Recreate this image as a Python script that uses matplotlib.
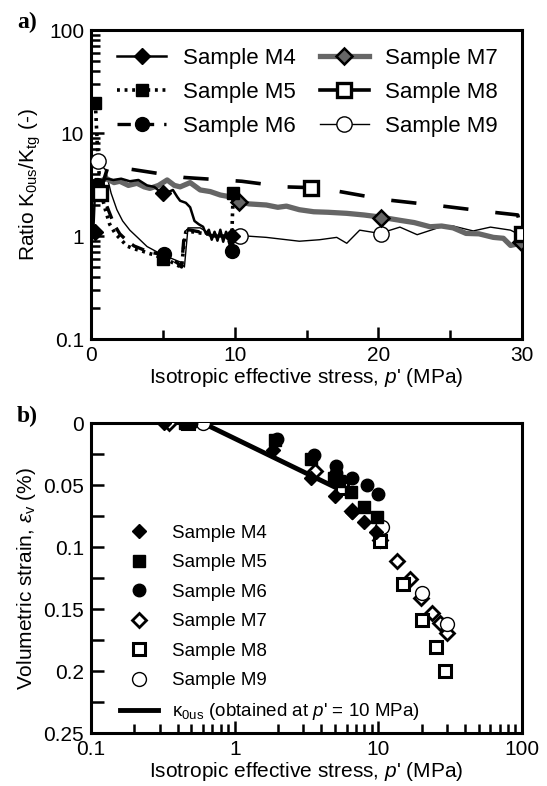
import numpy as np
import matplotlib
matplotlib.use("Agg")
import matplotlib.pyplot as plt
from matplotlib.ticker import FixedLocator, FuncFormatter, LogLocator, NullFormatter

plt.rcParams['font.family'] = ['Liberation Sans', 'DejaVu Sans']
plt.rcParams['mathtext.fontset'] = 'custom'
plt.rcParams['mathtext.rm'] = 'Liberation Sans'
plt.rcParams['mathtext.it'] = 'Liberation Sans:italic'

# ---- panel a: ratio K0us/Ktg vs p' ----
m4_x = [0.16, 0.3, 0.6, 1.1, 1.55, 2.1, 2.7, 3.3, 3.9, 4.4, 4.8, 5.2, 5.7, 6.0, 6.2, 6.6, 6.9, 7.2, 7.5, 7.8,
        8.0, 8.2, 8.4, 8.6, 8.8, 9.0, 9.2, 9.4, 9.6, 9.8]
m4_y = [1.12, 3.3, 3.4, 3.6, 3.5, 3.6, 3.4, 3.5, 3.1, 3.0, 2.7, 2.6, 2.8, 2.4, 2.2, 2.1, 1.9, 1.4, 1.3, 1.23,
        1.05, 1.15, 0.92, 1.1, 0.9, 1.15, 0.88, 1.1, 0.92, 1.0]
m4_mx = [0.3, 0.35, 5.0, 9.8]
m4_my = [1.1, 3.0, 2.6, 1.0]

m5_x = [0.3, 0.4, 0.5, 0.7, 1.0, 1.3, 1.7, 2.0, 2.5, 3.0, 3.5, 4.0, 4.5, 5.0, 5.5, 6.0, 6.3, 6.5, 6.6, 7.0,
        8.0, 9.0, 9.8, 9.85, 9.9]
m5_y = [19.6, 10.0, 5.0, 2.6, 1.8, 1.3, 1.05, 0.95, 0.8, 0.75, 0.72, 0.68, 0.65, 0.6, 0.57, 0.52, 0.5, 0.9,
        1.1, 1.1, 1.05, 1.0, 1.0, 1.7, 2.6]
m5_mx = [0.3, 0.5, 5.0, 9.85]
m5_my = [19.6, 2.7, 0.6, 2.6]

m6_x = [0.4, 0.8, 1.2, 1.6, 2.0, 2.5, 3.0, 3.5, 4.0, 4.5, 5.0, 5.5, 6.0, 6.3, 6.5, 6.8, 7.5, 8.5, 9.5, 9.8]
m6_y = [3.1, 2.5, 1.8, 1.3, 1.05, 0.9, 0.8, 0.75, 0.7, 0.68, 0.67, 0.6, 0.55, 0.5, 1.1, 1.15, 1.1, 1.0, 1.0, 0.72]
m6_mx = [0.4, 5.1, 9.8]
m6_my = [3.1, 0.67, 0.72]

m7_x = [0.16, 0.6, 1.1, 1.6, 2.0, 2.6, 3.2, 3.7, 4.1, 4.7, 5.3, 5.8, 6.2, 6.9, 7.6, 8.3, 9.0, 9.7, 10.3, 11.0,
        12.2, 13.0, 13.6, 14.5, 15.5, 16.5, 17.8, 19.0, 20.1, 21.5, 22.5, 23.6, 24.4, 25.2, 26.1, 27.0, 28.0,
        28.7, 29.2, 29.9]
m7_y = [3.25, 3.4, 3.6, 3.3, 3.4, 3.1, 3.25, 3.0, 2.9, 3.1, 3.5, 3.1, 3.0, 3.3, 2.8, 2.7, 2.5, 2.4, 2.15, 2.05,
        2.0, 1.9, 1.95, 1.8, 1.72, 1.7, 1.66, 1.6, 1.53, 1.42, 1.35, 1.23, 1.25, 1.2, 1.06, 1.05, 0.97,
        0.95, 0.81, 0.85]
m7_mx = [0.3, 10.3, 20.2, 29.9]
m7_my = [3.0, 2.15, 1.5, 0.88]

m8_x = [0.6, 1.2, 3.0, 6.5, 10.5, 13.5, 15.3, 17.0, 20.5, 24.5, 28.0, 29.7, 30.0]
m8_y = [2.6, 4.8, 4.4, 3.7, 3.4, 3.0, 2.95, 2.75, 2.25, 1.95, 1.7, 1.6, 1.05]
m8_mx = [0.6, 15.3, 30.0]
m8_my = [2.6, 2.95, 1.05]

m9_x = [0.5, 1.0, 1.4, 1.8, 2.2, 2.7, 3.3, 3.9, 4.6, 5.3, 6.2, 6.5, 6.75, 7.6, 8.5, 9.5, 10.4, 10.8, 12.2,
        14.5, 15.9, 17.1, 17.8, 18.7, 20.1, 21.5, 22.7, 24.3, 25.2, 26.6, 27.8, 29.2, 30.0]
m9_y = [5.3, 4.4, 2.6, 1.8, 1.4, 1.14, 0.95, 0.79, 0.7, 0.63, 0.56, 0.5, 1.2, 1.2, 1.0, 1.0, 1.0, 1.0, 0.97,
        0.89, 0.92, 0.97, 0.85, 1.14, 1.06, 1.22, 1.03, 1.22, 1.25, 1.12, 1.22, 1.14, 1.0]
m9_mx = [0.5, 10.4, 20.2]
m9_my = [5.3, 1.0, 1.05]

# ---- panel b: volumetric strain vs p' ----
b4_x = [0.32, 1.85, 3.4, 5.0, 6.6, 7.9, 9.6]
b4_y = [0.0, 0.022, 0.044, 0.059, 0.072, 0.08, 0.088]
b5_x = [0.45, 1.9, 3.4, 4.9, 5.3, 6.5, 8.0, 9.8]
b5_y = [0.0, 0.014, 0.029, 0.044, 0.047, 0.056, 0.068, 0.076]
b6_x = [0.5, 1.96, 3.55, 5.1, 5.1, 6.6, 8.3, 10.0]
b6_y = [0.0, 0.013, 0.026, 0.035, 0.040, 0.044, 0.05, 0.057]
b7_x = [0.35, 3.6, 6.6, 10.2, 13.4, 16.6, 19.9, 23.6, 26.8, 30.0]
b7_y = [0.0, 0.039, 0.071, 0.094, 0.111, 0.126, 0.141, 0.153, 0.161, 0.169]
b8_x = [0.47, 5.6, 10.3, 14.8, 20.0, 25.0, 29.3]
b8_y = [0.0, 0.052, 0.095, 0.130, 0.159, 0.181, 0.2]
b9_x = [0.6, 10.6, 20.0, 30.0]
b9_y = [0.0, 0.084, 0.137, 0.162]
kappa_x = [0.6, 5.7]
kappa_y = [0.0, 0.055]

xlab = "Isotropic effective stress, $p$' (MPa)"

fig = plt.figure(figsize=(5.47, 7.86), dpi=100)
ax1 = fig.add_axes([0.1664, 0.5687, 0.788, 0.3931])
ax2 = fig.add_axes([0.1664, 0.0674, 0.788, 0.3944])

gray = '#666666'
ax1.plot(m9_x, m9_y, color='black', lw=1.0, zorder=2)
ax1.plot(m9_mx, m9_my, ls='none', marker='o', ms=11, mfc='white', mec='black', mew=1.0, zorder=6)
ax1.plot(m7_x, m7_y, color=gray, lw=3.8, zorder=3)
ax1.plot(m7_mx, m7_my, ls='none', marker='D', ms=8.5, mfc=gray, mec='black', mew=1.8, zorder=6)
ax1.plot(m4_x, m4_y, color='black', lw=1.8, zorder=4)
ax1.plot(m4_mx, m4_my, ls='none', marker='D', ms=8, color='black', zorder=6)
ax1.plot(m5_x, m5_y, color='black', lw=2.6, ls=(0, (0.8, 1.3)), zorder=4)
ax1.plot(m5_mx, m5_my, ls='none', marker='s', ms=9, color='black', zorder=6)
ax1.plot(m6_x, m6_y, color='black', lw=2.4, ls=(0, (4, 3)), zorder=4)
ax1.plot(m6_mx, m6_my, ls='none', marker='o', ms=10, color='black', zorder=6)
l8, = ax1.plot(m8_x, m8_y, color='black', lw=2.6, zorder=3)
l8.set_dashes((7, 7.5))
ax1.plot(m8_mx, m8_my, ls='none', marker='s', ms=10, mfc='white', mec='black', mew=2.4, zorder=6)

# legend handles for panel a
h = []
h.append(ax1.plot([], [], color='black', lw=1.8, marker='D', ms=8, label='Sample M4')[0])
h.append(ax1.plot([], [], color='black', lw=2.6, ls=(0, (0.8, 1.3)), marker='s', ms=9, label='Sample M5')[0])
h.append(ax1.plot([], [], color='black', lw=2.4, ls=(0, (4, 3)), marker='o', ms=10, label='Sample M6')[0])
h.append(ax1.plot([], [], color=gray, lw=3.8, marker='D', ms=8.5, mfc=gray, mec='black', mew=1.8,
                  label='Sample M7')[0])
h.append(ax1.plot([], [], color='black', lw=2.6, marker='s', ms=10, mfc='white', mec='black', mew=2.4,
                  label='Sample M8')[0])
h.append(ax1.plot([], [], color='black', lw=1.0, marker='o', ms=11, mfc='white', mec='black', mew=1.0,
                  label='Sample M9')[0])
ax1.legend(handles=h, ncol=2, loc='upper left', bbox_to_anchor=(0.04, 0.97), frameon=False,
           fontsize=16, handlelength=2.2, handletextpad=0.75, columnspacing=1.1, labelspacing=0.58,
           borderaxespad=0)

ax1.set_yscale('log')
ax1.set_xlim(0, 30)
ax1.set_ylim(0.1, 100)
ax1.xaxis.set_major_locator(FixedLocator([0, 10, 20, 30]))
ax1.xaxis.set_minor_locator(FixedLocator([5, 15, 25]))
ax1.yaxis.set_major_locator(LogLocator(base=10, numticks=10))
ax1.yaxis.set_minor_locator(LogLocator(base=10, subs=np.arange(2, 10), numticks=10))
ax1.yaxis.set_major_formatter(FuncFormatter(lambda v, p: '%g' % v))
ax1.yaxis.set_minor_formatter(NullFormatter())
ax1.set_xlabel(xlab, fontsize=15, labelpad=1)
ax1.set_ylabel(r"Ratio K$_\mathrm{0us}$/K$_\mathrm{tg}$ (-)", fontsize=15, labelpad=4)

# ---- panel b ----
ax2.plot(kappa_x, kappa_y, color='black', lw=3.5, zorder=2, label=r"κ$_\mathrm{0us}$ (obtained at $p$' = 10 MPa)")
ax2.plot(b4_x, b4_y, ls='none', marker='D', ms=7.5, color='black', zorder=4, label='Sample M4')
ax2.plot(b5_x, b5_y, ls='none', marker='s', ms=8, color='black', zorder=4, label='Sample M5')
ax2.plot(b6_x, b6_y, ls='none', marker='o', ms=9, color='black', zorder=4, label='Sample M6')
ax2.plot(b7_x, b7_y, ls='none', marker='D', ms=7.5, mfc='white', mec='black', mew=2.0, zorder=3, label='Sample M7')
ax2.plot(b8_x, b8_y, ls='none', marker='s', ms=8.5, mfc='white', mec='black', mew=2.2, zorder=3, label='Sample M8')
ax2.plot(b9_x, b9_y, ls='none', marker='o', ms=10, mfc='white', mec='black', mew=1.0, zorder=3, label='Sample M9')
hb, lb = ax2.get_legend_handles_labels()
order = [1, 2, 3, 4, 5, 6, 0]
ax2.legend([hb[i] for i in order], [lb[i] for i in order], loc='upper left', bbox_to_anchor=(0.05, 0.697),
           frameon=False, fontsize=13.5, handlelength=2.0, handletextpad=0.75, labelspacing=0.66,
           borderaxespad=0)

ax2.set_xscale('log')
ax2.set_xlim(0.1, 100)
ax2.set_ylim(0.25, 0)
ax2.xaxis.set_major_locator(LogLocator(base=10, numticks=10))
ax2.xaxis.set_minor_locator(LogLocator(base=10, subs=np.arange(2, 10), numticks=10))
ax2.xaxis.set_major_formatter(FuncFormatter(lambda v, p: '%g' % v))
ax2.xaxis.set_minor_formatter(NullFormatter())
ax2.yaxis.set_major_locator(FixedLocator([0, 0.05, 0.1, 0.15, 0.2, 0.25]))
ax2.yaxis.set_minor_locator(FixedLocator([0.025, 0.075, 0.125, 0.175, 0.225]))
ax2.yaxis.set_major_formatter(FuncFormatter(lambda v, p: '%g' % round(v, 3)))
ax2.set_xlabel(xlab, fontsize=15, labelpad=1)
ax2.set_ylabel(r"Volumetric strain, $\varepsilon_\mathrm{v}$ (%)", fontsize=15, labelpad=4)

for ax in (ax1, ax2):
    for s in ax.spines.values():
        s.set_linewidth(2.2)
    ax.tick_params(which='both', direction='in', top=False, right=False, width=1.8, labelsize=15, pad=5)
    ax.tick_params(which='major', length=9)
    ax.tick_params(which='minor', length=6.5)
ax2.tick_params(axis='y', which='minor', length=9)

fig.text(0.031, 0.972, 'a)', fontsize=17, fontweight='bold', family='Liberation Serif', va='center')
fig.text(0.031, 0.470, 'b)', fontsize=17, fontweight='bold', family='Liberation Serif', va='center')

fig.savefig('out.png', dpi=100)
